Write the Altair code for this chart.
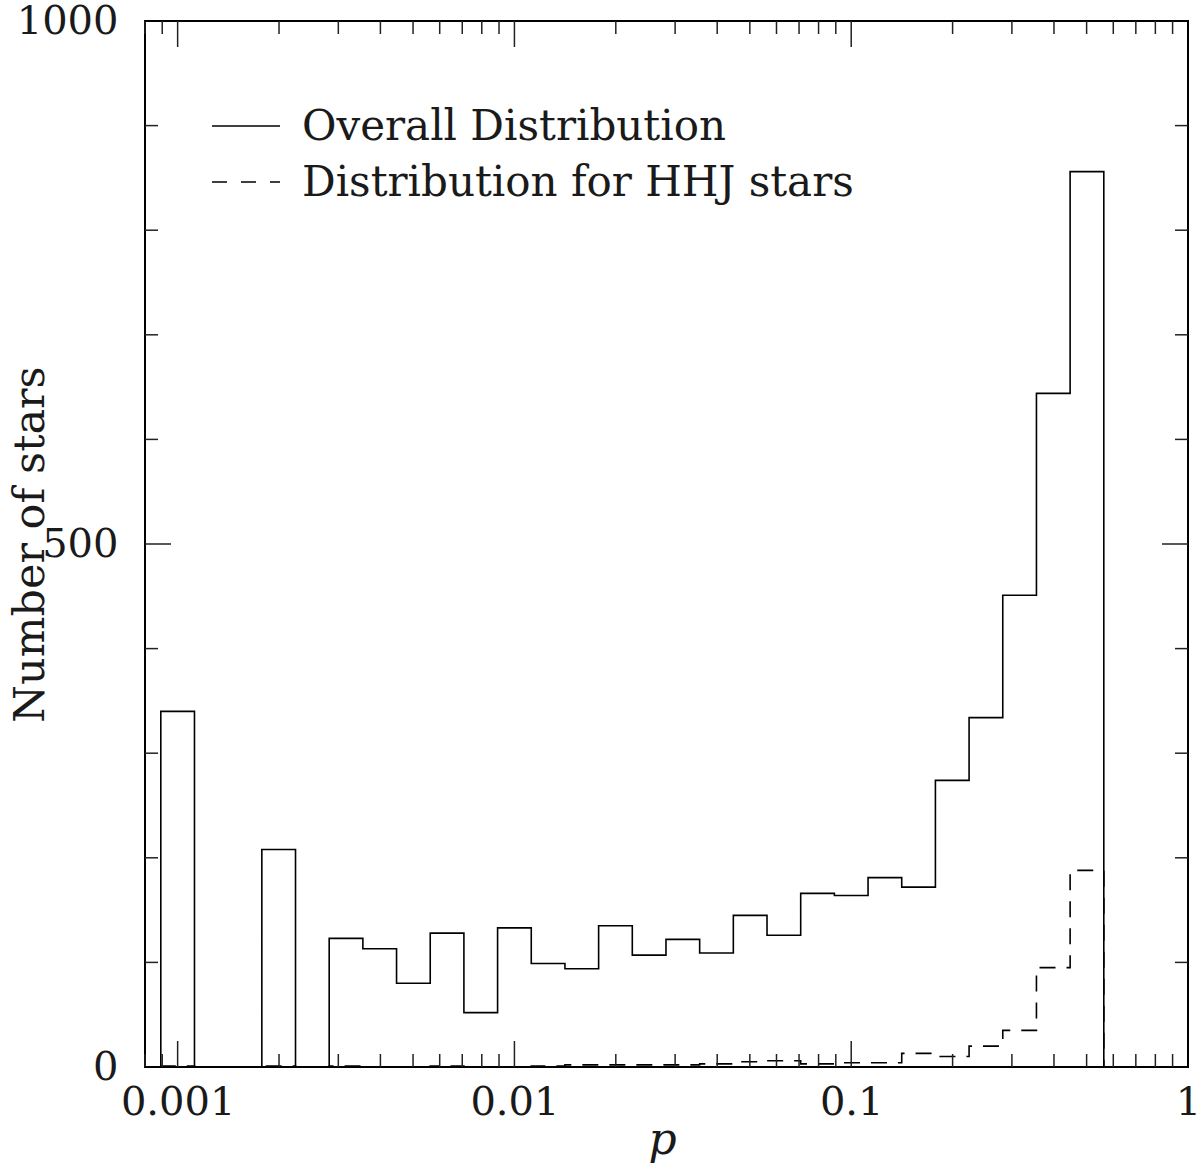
import altair as alt
import pandas as pd

# ---- data ----
log_p_centers = [-3.0, -2.9, -2.8, -2.7, -2.6, -2.5, -2.4, -2.3, -2.2, -2.1,
                 -2.0, -1.9, -1.8, -1.7, -1.6, -1.5, -1.4, -1.3, -1.2, -1.1,
                 -1.0, -0.9, -0.8, -0.7, -0.6, -0.5, -0.4, -0.3]
bin_half_width = 0.05
overall_counts = [340, 0, 0, 208, 0, 123, 113, 80, 128, 52,
                  133, 99, 94, 135, 107, 122, 109, 145, 126, 166,
                  164, 181, 172, 274, 334, 451, 644, 856]
hhj_counts = [1, 0, 0, 1, 0, 1, 0, 0, 1, 0,
              0, 1, 2, 2, 2, 2, 3, 5, 6, 3,
              4, 4, 13, 10, 20, 35, 95, 188]

x_tick_labels = [0.001, 0.01, 0.1, 1]
x_minor_ticks = [0.0008, 0.0009, 0.002, 0.003, 0.004, 0.005, 0.006, 0.007, 0.008, 0.009,
                 0.02, 0.03, 0.04, 0.05, 0.06, 0.07, 0.08, 0.09,
                 0.2, 0.3, 0.4, 0.5, 0.6, 0.7, 0.8, 0.9]
x_major_ticks = [0.001, 0.01, 0.1]
y_tick_labels = [0, 500, 1000]
y_minor_ticks = [100, 200, 300, 400, 600, 700, 800, 900]
y_major_ticks = [500]
legend_labels = ["Overall Distribution", "Distribution for HHJ stars"]

FONT = "DejaVu Serif"
FS = 40
FS_LEG = 42
TXT = "#1a1a1a"
W, H = 1043, 1046
MAJ, MIN = 26, 13


def step_outline(counts):
    rows = []
    order = 0
    first_lo = 10 ** (log_p_centers[0] - bin_half_width)
    rows.append({"p": first_lo, "n": 0, "o": order})
    for c, v in zip(log_p_centers, counts):
        lo = 10 ** (c - bin_half_width)
        hi = 10 ** (c + bin_half_width)
        order += 1
        rows.append({"p": lo, "n": v, "o": order})
        order += 1
        rows.append({"p": hi, "n": v, "o": order})
    order += 1
    rows.append({"p": 10 ** (log_p_centers[-1] + bin_half_width), "n": 0, "o": order})
    return pd.DataFrame(rows)


xscale = alt.Scale(type="log", domain=[0.0008, 1], nice=False)
yscale = alt.Scale(domain=[0, 1000], nice=False, zero=False)

x_axis = alt.Axis(values=x_tick_labels, format="~g", ticks=False, tickSize=0, domain=False,
                  grid=False, labelFont=FONT, labelFontSize=FS, labelColor=TXT,
                  labelPadding=15, labelFlush=False, labelOverlap=False, labelBound=False,
                  title="p", titleFont=FONT, titleFontSize=44, titleFontStyle="italic",
                  titleFontWeight="normal", titleColor=TXT, titleX=517, titleY=86,
                  titleAlign="center", titleBaseline="alphabetic")
y_axis = alt.Axis(values=y_tick_labels, format="d", ticks=False, tickSize=0, domain=False,
                  grid=False, labelFont=FONT, labelFontSize=FS, labelColor=TXT,
                  labelPadding=27, labelFlush=False, labelOverlap=False, labelBound=False,
                  title="Number of stars", titleFont=FONT, titleFontSize=43,
                  titleFontWeight="normal", titleColor=TXT, titleAngle=270,
                  titleX=-115, titleY=523, titleAlign="center", titleBaseline="middle")

solid = alt.Chart(step_outline(overall_counts)).mark_line(
    color="black", strokeWidth=1.6, interpolate="linear"
).encode(
    x=alt.X("p:Q", scale=xscale, axis=x_axis),
    y=alt.Y("n:Q", scale=yscale, axis=y_axis),
    order="o:Q",
)

dashed = alt.Chart(step_outline(hhj_counts)).mark_line(
    color="black", strokeWidth=1.6, strokeDash=[16, 11], strokeCap="butt"
).encode(
    x=alt.X("p:Q", scale=xscale),
    y=alt.Y("n:Q", scale=yscale),
    order="o:Q",
)

def xticks(vals, y0, y1):
    return alt.Chart(pd.DataFrame({"p": vals})).mark_rule(color="#222", strokeWidth=1.5).encode(
        x=alt.X("p:Q", scale=xscale), y=alt.value(y0), y2=alt.value(y1))

def yticks(vals, x0, x1):
    return alt.Chart(pd.DataFrame({"n": vals})).mark_rule(color="#222", strokeWidth=1.5).encode(
        y=alt.Y("n:Q", scale=yscale), x=alt.value(x0), x2=alt.value(x1))

tick_layers = [
    xticks(x_minor_ticks, H, H - MIN), xticks(x_major_ticks, H, H - MAJ),
    xticks(x_minor_ticks, 0, MIN), xticks(x_major_ticks, 0, MAJ),
    yticks(y_minor_ticks, 0, MIN), yticks(y_major_ticks, 0, MAJ),
    yticks(y_minor_ticks, W, W - MIN), yticks(y_major_ticks, W, W - MAJ),
]

one = pd.DataFrame({"k": [0]})
leg_solid = alt.Chart(one).mark_rule(color="black", strokeWidth=1.6).encode(
    x=alt.value(67), x2=alt.value(135), y=alt.value(105))
leg_dash = alt.Chart(one).mark_rule(color="black", strokeWidth=1.6, strokeDash=[15, 14],
                                    strokeCap="butt").encode(
    x=alt.value(67), x2=alt.value(135), y=alt.value(161))
leg_text1 = alt.Chart(one).mark_text(align="left", baseline="middle", font=FONT,
                                     fontSize=FS_LEG, color=TXT).encode(
    x=alt.value(157), y=alt.value(106), text=alt.value(legend_labels[0]))
leg_text2 = alt.Chart(one).mark_text(align="left", baseline="middle", font=FONT,
                                     fontSize=FS_LEG, color=TXT).encode(
    x=alt.value(157), y=alt.value(162), text=alt.value(legend_labels[1]))

chart = alt.layer(
    solid, dashed, *tick_layers, leg_solid, leg_dash, leg_text1, leg_text2
).properties(
    width=W, height=H,
    padding={"left": 145, "top": 21, "right": 14, "bottom": 105},
    autosize=alt.AutoSizeParams(type="none"),
    background="white",
).configure_view(stroke="black", strokeWidth=2)

chart.save("out.html", embed_options={"renderer": "svg", "actions": False})
